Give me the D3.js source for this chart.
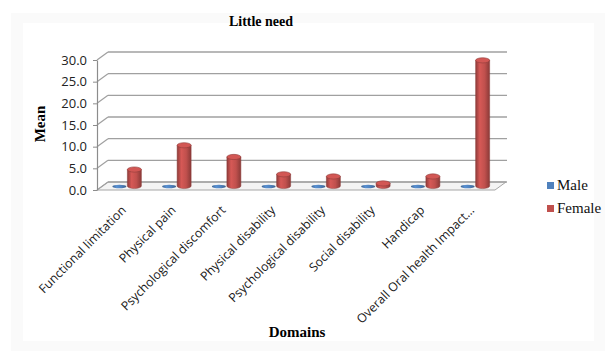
<!DOCTYPE html>
<html>
<head>
<meta charset="utf-8">
<script src="https://cdn.jsdelivr.net/npm/d3@7"></script>
<style>
  body { margin: 0; background: #fff; }
  svg { display: block; }
</style>
</head>
<body>
<div id="chart"></div>
<script>
// data
let domains = ['Functional limitation', 'Physical pain', 'Psychological discomfort', 'Physical disability',
               'Psychological disability', 'Social disability', 'Handicap', 'Overall Oral health Impact...'];
let series = ['Male', 'Female'];
let maleMeans = [0.1, 0.1, 0.1, 0.1, 0.1, 0.1, 0.1, 0.1];
let femaleMeans = [3.8, 9.4, 6.7, 2.7, 2.2, 0.6, 2.2, 29.0];
let yTicks = [0, 5, 10, 15, 20, 25, 30];

let colors = {Male: '#4F81BD', Female: '#C0504D'};
let width = 616, height = 363;
let depth = {x: 11, y: -8};   // offset of back wall from front plane

let svg = d3.select('#chart').append('svg')
            .attr('width', width)
            .attr('height', height);

// faint chart / plot area boxes
svg.append('rect').attr('x', 11).attr('y', 13).attr('width', 594).attr('height', 338).attr('fill', '#fafafa');
svg.append('rect').attr('x', 23).attr('y', 23).attr('width', 571).attr('height', 318).attr('fill', '#ffffff');

let defs = svg.append('defs');
series.forEach(s => {
  let base = d3.color(colors[s]);
  let g = defs.append('linearGradient').attr('id', 'grad-' + s).attr('x1', 0).attr('x2', 1).attr('y1', 0).attr('y2', 0);
  g.append('stop').attr('offset', '0%').attr('stop-color', base.darker(0.8));
  g.append('stop').attr('offset', '30%').attr('stop-color', base.brighter(0.3));
  g.append('stop').attr('offset', '65%').attr('stop-color', base);
  g.append('stop').attr('offset', '100%').attr('stop-color', base.darker(0.9));
});

let x = d3.scaleBand()
          .domain(domains)
          .range([97, 495])
          .padding(0);

let sub = d3.scaleBand()
            .domain(series)
            .range([-14, 14]);

let y = d3.scaleLinear()
          .domain([0, 30])
          .range([190, 60]);

// floor
let x0 = x.range()[0], x1 = x.range()[1];
svg.append('path')
   .attr('d', `M${x0},${y(0)}L${x1},${y(0)}L${x1 + depth.x},${y(0) + depth.y}L${x0 + depth.x},${y(0) + depth.y}Z`)
   .attr('fill', '#f4f4f4')
   .attr('stroke', '#a6a6a6')
   .attr('stroke-width', 1);

// back wall gridlines and left wall diagonals
svg.append('g').selectAll('line.grid')
   .data(yTicks)
   .join('line')
   .attr('x1', x0 + depth.x)
   .attr('x2', x1 + depth.x + 1)
   .attr('y1', d => y(d) + depth.y)
   .attr('y2', d => y(d) + depth.y)
   .attr('stroke', '#a0a0a0')
   .attr('stroke-width', 1.3);

svg.append('g').selectAll('line.side')
   .data(yTicks)
   .join('line')
   .attr('x1', x0)
   .attr('x2', x0 + depth.x)
   .attr('y1', d => y(d))
   .attr('y2', d => y(d) + depth.y)
   .attr('stroke', '#a0a0a0')
   .attr('stroke-width', 1.2);

// y axis
let yAxis = svg.append('g')
   .attr('transform', `translate(${x0},0)`)
   .call(d3.axisLeft(y).tickValues(yTicks).tickFormat(d3.format('.1f')).tickSize(4).tickSizeOuter(0));
yAxis.select('.domain').attr('stroke', '#8c8c8c').attr('stroke-width', 1.2);
yAxis.selectAll('.tick line').attr('stroke', '#8c8c8c');
yAxis.selectAll('.tick text')
     .attr('x', -10)
     .style('font-family', 'Open Sans, sans-serif')
     .style('font-size', '13px')
     .attr('fill', '#222');

// cylinders
let rows = [];
domains.forEach((d, i) => {
  rows.push({domain: d, s: 'Male', v: maleMeans[i]});
  rows.push({domain: d, s: 'Female', v: femaleMeans[i]});
});

let midX = depth.x / 2, midY = depth.y / 2;
let bw = sub.bandwidth();
let ry = 2.6;

let bars = svg.append('g').selectAll('g.bar')
   .data(rows)
   .join('g')
   .attr('class', 'bar');

bars.each(function(d) {
  let g = d3.select(this);
  let cx = x(d.domain) + x.bandwidth() / 2 + midX + sub(d.s) + bw / 2;
  let left = cx - bw / 2, right = cx + bw / 2;
  let baseY = y(0) + midY, topY = y(d.v) + midY;
  let rx = bw / 2;
  if (d.s === 'Male') {
    g.append('ellipse')
     .attr('cx', cx - 1).attr('cy', baseY + 0.5)
     .attr('rx', rx).attr('ry', 1.8)
     .attr('fill', 'url(#grad-Male)');
    return;
  }
  g.append('path')
   .attr('d', `M${left},${topY}L${left},${baseY}A${rx},${ry} 0 0 0 ${right},${baseY}L${right},${topY}Z`)
   .attr('fill', 'url(#grad-' + d.s + ')')
   .attr('stroke', d3.color(colors[d.s]).darker(0.9))
   .attr('stroke-width', 0.5);
  g.append('ellipse')
   .attr('cx', cx).attr('cy', topY)
   .attr('rx', rx).attr('ry', ry)
   .attr('fill', d3.color(colors[d.s]).brighter(0.25))
   .attr('stroke', d3.color(colors[d.s]).darker(0.8))
   .attr('stroke-width', 0.6);
});

// category labels
svg.append('g').selectAll('text.cat')
   .data(domains)
   .join('text')
   .attr('transform', d => `translate(${x(d) + x.bandwidth() / 2 + 5},211) rotate(-45)`)
   .attr('text-anchor', 'end')
   .style('font-family', 'Open Sans, sans-serif')
   .style('font-size', '12.3px')
   .attr('fill', '#1a1a1a')
   .text(d => d);

// titles
svg.append('text')
   .attr('x', 261).attr('y', 26)
   .attr('text-anchor', 'middle')
   .style('font-family', 'Liberation Serif, serif')
   .style('font-weight', 'bold')
   .style('font-size', '14px')
   .text('Little need');

svg.append('text')
   .attr('transform', 'translate(45,124) rotate(-90)')
   .attr('text-anchor', 'middle')
   .style('font-family', 'Liberation Serif, serif')
   .style('font-weight', 'bold')
   .style('font-size', '15px')
   .text('Mean');

svg.append('text')
   .attr('x', 297).attr('y', 337)
   .attr('text-anchor', 'middle')
   .style('font-family', 'Liberation Serif, serif')
   .style('font-weight', 'bold')
   .style('font-size', '15px')
   .text('Domains');

// legend
let legend = svg.append('g').selectAll('g.leg')
   .data(series)
   .join('g')
   .attr('transform', (d, i) => `translate(547,${182 + i * 23})`);
legend.append('rect')
   .attr('width', 7).attr('height', 7)
   .attr('fill', d => colors[d]);
legend.append('text')
   .attr('x', 10).attr('y', 7.5)
   .style('font-family', 'Liberation Serif, serif')
   .style('font-size', '15px')
   .attr('fill', '#111')
   .text(d => d);
</script>
</body>
</html>
